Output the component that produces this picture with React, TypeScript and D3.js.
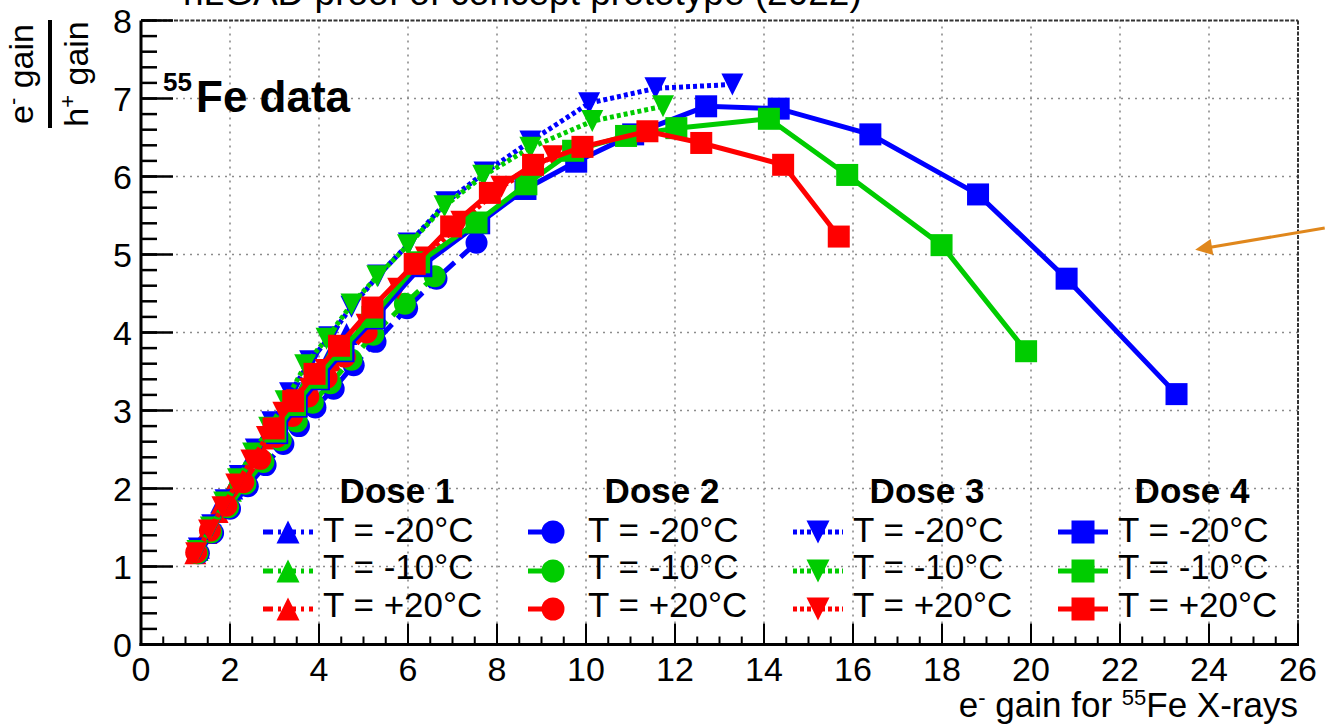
import React from "react";
import * as d3 from "d3";

const W = 1327;
const H = 726;
const FONT = "'Liberation Sans', Arial, Helvetica, sans-serif";

// axis definitions
const xDomain = [0, 26];
const yDomain = [0, 8];
const xTickValues = [0, 2, 4, 6, 8, 10, 12, 14, 16, 18, 20, 22, 24, 26];
const yTickValues = [0, 1, 2, 3, 4, 5, 6, 7, 8];

// categories
const doseLabels = ["Dose 1", "Dose 2", "Dose 3", "Dose 4"];
const tempLabels = ["T = -20°C", "T = -10°C", "T = +20°C"];
const tempColors = ["#0000ff", "#00cc00", "#ff0000"];
const doseMarkers = ["triUp", "circle", "triDown", "square"];
const doseDashes = ["10 5 3 5", "14 8", "4 3", "none"];

// data: [e- gain, ratio]
const dose1M20 = [[1.3,1.24],[1.55,1.5],[1.8,1.82],[2.05,2.0],[2.35,2.24],[2.65,2.48],[2.95,2.72],[3.3,3.0],[3.65,3.27],[4.0,3.52],[4.3,3.76],[4.62,3.98]];
const dose1M10 = [[1.27,1.21],[1.52,1.47],[1.77,1.75],[2.02,1.97],[2.32,2.21],[2.62,2.45],[2.92,2.69],[3.27,2.96],[3.62,3.23],[3.97,3.48],[4.3,3.72]];
const dose1P20 = [[1.22,1.17],[1.47,1.43],[1.72,1.7],[1.98,1.92],[2.28,2.16],[2.58,2.4],[2.88,2.64],[3.22,2.9],[3.57,3.16],[3.92,3.41],[4.26,3.64]];

const dose2M20 = [[1.3,1.17],[1.62,1.43],[2.0,1.74],[2.4,2.03],[2.8,2.3],[3.2,2.57],[3.55,2.8],[3.92,3.04],[4.33,3.28],[4.78,3.58],[5.27,3.88],[5.98,4.31],[6.64,4.69],[7.54,5.15]];
const dose2M10 = [[1.27,1.17],[1.58,1.44],[1.96,1.76],[2.35,2.06],[2.75,2.34],[3.14,2.62],[3.5,2.86],[3.86,3.1],[4.26,3.35],[4.73,3.65],[5.22,3.97],[5.93,4.37],[6.6,4.72]];
const dose2P20 = [[1.24,1.18],[1.55,1.46],[1.92,1.78],[2.3,2.08],[2.68,2.38],[3.05,2.66],[3.4,2.93],[3.76,3.18],[4.17,3.42],[4.58,3.69],[5.07,4.0]];

const dose3M20 = [[1.3,1.23],[1.6,1.53],[1.9,1.85],[2.22,2.16],[2.58,2.5],[2.95,2.85],[3.35,3.22],[3.8,3.63],[4.23,3.94],[4.73,4.33],[5.33,4.73],[6.02,5.14],[6.86,5.67],[7.72,6.05],[8.75,6.45],[10.07,6.94],[11.56,7.13],[13.29,7.18]];
const dose3M10 = [[1.27,1.2],[1.57,1.5],[1.87,1.82],[2.18,2.12],[2.52,2.45],[2.88,2.78],[3.25,3.12],[3.69,3.58],[4.17,3.92],[4.73,4.36],[5.31,4.72],[6.0,5.12],[6.82,5.62],[7.69,6.01],[8.75,6.37],[10.14,6.71],[11.73,6.9]];
const dose3P20 = [[1.24,1.17],[1.53,1.46],[1.83,1.76],[2.14,2.05],[2.48,2.36],[2.83,2.66],[3.2,2.97],[3.5,3.13],[3.8,3.28],[4.15,3.52],[4.54,3.78],[5.07,4.1],[5.78,4.56],[6.4,4.96],[7.2,5.42],[8.1,5.87],[9.26,6.26]];

const dose4M20 = [[3.06,2.71],[3.5,3.05],[4.0,3.4],[4.55,3.76],[5.25,4.18],[6.3,4.85],[7.6,5.4],[8.64,5.84],[9.78,6.19],[11.06,6.54],[12.7,6.9],[14.33,6.87],[16.39,6.54],[18.81,5.77],[20.8,4.69],[23.27,3.21]];
const dose4M10 = [[3.02,2.73],[3.46,3.07],[3.95,3.42],[4.5,3.78],[5.2,4.2],[6.25,4.9],[7.54,5.41],[8.66,5.9],[9.71,6.33],[10.9,6.52],[12.03,6.62],[14.11,6.74],[15.87,6.02],[17.99,5.12],[19.89,3.76]];
const dose4P20 = [[2.98,2.77],[3.42,3.12],[3.9,3.47],[4.45,3.83],[5.2,4.32],[6.15,4.88],[6.97,5.36],[7.84,5.79],[8.81,6.15],[9.92,6.38],[11.38,6.58],[12.59,6.43],[14.43,6.15],[15.68,5.23]];

const seriesData = [
  [dose1M20, dose1M10, dose1P20],
  [dose2M20, dose2M10, dose2P20],
  [dose3M20, dose3M10, dose3P20],
  [dose4M20, dose4M10, dose4P20],
];

// annotation arrow (data coordinates)
const arrowTail = [26.6, 5.34];
const arrowTip = [23.69, 5.06];

function Marker({ kind, cx, cy, color, s }: { kind: string; cx: number; cy: number; color: string; s: number }) {
  if (kind === "circle") return <circle cx={cx} cy={cy} r={s} fill={color} />;
  if (kind === "square") return <rect x={cx - s} y={cy - s} width={2 * s} height={2 * s} fill={color} />;
  if (kind === "triUp")
    return <path d={`M${cx - s},${cy + s}L${cx + s},${cy + s}L${cx},${cy - s}Z`} fill={color} />;
  return <path d={`M${cx - s},${cy - s}L${cx + s},${cy - s}L${cx},${cy + s}Z`} fill={color} />;
}

export default function App() {
  const x = d3.scaleLinear().domain(xDomain).range([141, 1298]);
  const y = d3.scaleLinear().domain(yDomain).range([644.5, 20.5]);
  const line = d3
    .line<number[]>()
    .x((d) => x(d[0]))
    .y((d) => y(d[1]));

  const xMinor = d3.range(0, 26.001, 0.5);
  const yMinor = d3.range(0, 8.001, 0.2);
  const xGrid = xTickValues.filter((t) => t > 0 && t < 26);
  const yGrid = yTickValues.filter((t) => t > 0 && t < 8);

  const x0 = x(0), x1 = x(26), y0 = y(0), y1 = y(8);

  // arrow geometry
  const tx = x(arrowTip[0]), ty = y(arrowTip[1]);
  const sx = x(arrowTail[0]), sy = y(arrowTail[1]);
  const len = Math.hypot(tx - sx, ty - sy);
  const ux = (tx - sx) / len, uy = (ty - sy) / len;
  const nx = -uy, ny = ux;
  const hl = 17, hw = 8;
  const bx = tx - ux * hl, by = ty - uy * hl;

  const colStep = 265;
  const legendRows = [532, 571, 609];
  const textBase = [542, 579, 617];

  return (
    <svg
      width={W}
      height={H}
      viewBox={`0 0 ${W} ${H}`}
      style={{ position: "absolute", left: 0, top: 0, display: "block", background: "#fff" }}
      fontFamily={FONT}
    >
      <rect width={W} height={H} fill="#fff" />
      {/* title (cut off at top, as in the reference) */}
      <text x={183} y={5} fontSize={37} fill="#000">
        nLGAD proof of concept prototype (2022)
      </text>

      {/* grid */}
      <g stroke="#8c8c8c" strokeWidth={1.6} strokeDasharray="2 5">
        {xGrid.map((t) => (
          <line key={"gx" + t} x1={x(t)} x2={x(t)} y1={y0} y2={y1} />
        ))}
        {yGrid.map((t) => (
          <line key={"gy" + t} x1={x0} x2={x1} y1={y(t)} y2={y(t)} />
        ))}
      </g>

      {/* frame top/right */}
      <g stroke="#333" strokeWidth={2} strokeDasharray="4 1.5">
        <line x1={x0} x2={x1} y1={y1} y2={y1} />
        <line x1={x1} x2={x1} y1={y1} y2={y0} />
      </g>

      {/* series */}
      {seriesData.map((doseSet, di) =>
        doseSet.map((data, ti) => (
          <g key={`s${di}-${ti}`}>
            <path
              d={line(data) || ""}
              fill="none"
              stroke={tempColors[ti]}
              strokeWidth={5}
              strokeDasharray={doseDashes[di]}
            />
            {data.map((d, k) => (
              <Marker key={k} kind={doseMarkers[di]} cx={x(d[0])} cy={y(d[1])} color={tempColors[ti]} s={11} />
            ))}
          </g>
        ))
      )}

      {/* axes */}
      <g stroke="#000">
        <line x1={x0} x2={x0} y1={y1} y2={y0 + 1.5} strokeWidth={3} />
        <line x1={x0 - 1.5} x2={x1 + 1} y1={y0} y2={y0} strokeWidth={3} />
        {yMinor.map((t, i) => (
          <line key={"ym" + i} x1={x0} x2={x0 + 16} y1={y(t)} y2={y(t)} strokeWidth={2.5} />
        ))}
        {yTickValues.map((t) => (
          <line key={"yM" + t} x1={x0} x2={x0 + 32} y1={y(t)} y2={y(t)} strokeWidth={2.5} />
        ))}
        {xMinor.map((t, i) => (
          <line key={"xm" + i} x1={x(t)} x2={x(t)} y1={y0} y2={y0 - 8} strokeWidth={2} />
        ))}
        {xTickValues.map((t) => (
          <line key={"xM" + t} x1={x(t)} x2={x(t)} y1={y0} y2={y0 - 21} strokeWidth={2} />
        ))}
      </g>

      {/* tick labels */}
      <g fontSize={34} fill="#000">
        {yTickValues.map((t) => (
          <text key={"yl" + t} x={132} y={y(t) + 12} textAnchor="end">
            {t}
          </text>
        ))}
        {xTickValues.map((t) => (
          <text key={"xl" + t} x={x(t)} y={681} textAnchor="middle">
            {t}
          </text>
        ))}
      </g>

      {/* x axis title */}
      <text x={1298} y={717} fontSize={35} textAnchor="end" fill="#000">
        <tspan>e</tspan>
        <tspan fontSize={22} dy={-12}>-</tspan>
        <tspan dy={12}> gain for </tspan>
        <tspan fontSize={22} dy={-12}>55</tspan>
        <tspan dy={12}>Fe X-rays</tspan>
      </text>

      {/* y axis title as fraction */}
      <g transform="translate(0,74) rotate(-90)" fill="#000">
        <text x={0} y={33} fontSize={34} textAnchor="middle">
          <tspan>e</tspan>
          <tspan fontSize={22} dy={-13}>-</tspan>
          <tspan dy={13}> gain</tspan>
        </text>
        <line x1={-54} x2={54} y1={50} y2={50} stroke="#000" strokeWidth={4} />
        <text x={0} y={88} fontSize={34} textAnchor="middle">
          <tspan>h</tspan>
          <tspan fontSize={22} dy={-13}>+</tspan>
          <tspan dy={13}> gain</tspan>
        </text>
      </g>

      {/* 55Fe data label */}
      <text x={163} y={91} fontSize={26} fontWeight="bold" fill="#000">
        55
      </text>
      <text x={196} y={112} fontSize={44} fontWeight="bold" fill="#000">
        Fe data
      </text>

      {/* legend */}
      {doseLabels.map((lab, di) => (
        <g key={"leg" + di}>
          <text x={397 + colStep * di} y={503} fontSize={35} fontWeight="bold" textAnchor="middle" fill="#000">
            {lab}
          </text>
          {tempLabels.map((tl, ti) => {
            const mx = 288 + colStep * di;
            const my = legendRows[ti];
            return (
              <g key={"le" + ti}>
                <line
                  x1={mx - 25}
                  x2={di === 1 ? mx : mx + 25}
                  y1={my}
                  y2={my}
                  stroke={tempColors[ti]}
                  strokeWidth={5}
                  strokeDasharray={doseDashes[di]}
                />
                <Marker kind={doseMarkers[di]} cx={mx} cy={my} color={tempColors[ti]} s={11.5} />
                <text x={323 + colStep * di} y={textBase[ti]} fontSize={35} fill="#000">
                  {tl}
                </text>
              </g>
            );
          })}
        </g>
      ))}

      {/* annotation arrow */}
      <line x1={sx} y1={sy} x2={bx + ux * 3} y2={by + uy * 3} stroke="#e0871c" strokeWidth={3} />
      <path
        d={`M${tx},${ty}L${bx + nx * hw},${by + ny * hw}L${bx - nx * hw},${by - ny * hw}Z`}
        fill="#e0871c"
      />
    </svg>
  );
}
